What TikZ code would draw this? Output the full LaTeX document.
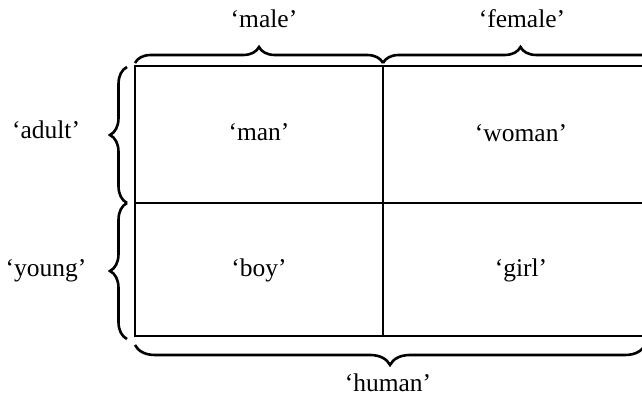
\documentclass[tikz,border=0pt]{standalone}
\usepackage{fontspec}
\setmainfont{Liberation Serif}
\usetikzlibrary{decorations.pathreplacing}
\begin{document}
\begin{tikzpicture}[x=1pt,y=1pt,
  lbl/.style={font=\fontsize{25.5}{28}\selectfont, anchor=base, inner sep=0pt},
  grid/.style={line width=1.8pt},
  curly/.style={decorate, decoration={brace, amplitude=#1}, line width=2.6pt},
]
\useasboundingbox (0,0) rectangle (642,398);
\clip (0,0) rectangle (642,398);
% box corners
\coordinate (tl) at (135,332);
\coordinate (br) at (646,62);
\coordinate (mt) at (383,332);
\coordinate (mb) at (383,62);
\coordinate (ml) at (135,195);
\coordinate (mr) at (646,195);
\draw[grid] (tl) rectangle (br);
\draw[grid] (mt) -- (mb);
\draw[grid] (ml) -- (mr);
% braces
\coordinate (tb1) at (135,335);
\coordinate (tb2) at (383,335);
\coordinate (tb3) at (658,335);
\draw[curly=16] (tb1) -- (tb2);
\draw[curly=16] (tb2) -- (tb3);
\coordinate (lb1) at (127,59);
\coordinate (lb2) at (127,195);
\coordinate (lb3) at (127,331);
\draw[curly=17] (lb2) -- (lb3);
\draw[curly=17] (lb1) -- (lb2);
\coordinate (bb1) at (135,53);
\coordinate (bb2) at (645,53);
\draw[curly=20] (bb2) -- (bb1);
% labels
\node[lbl] (male) at (264,370) {‘male’};
\node[lbl] (female) at (522,370) {‘female’};
\node[lbl] (adult) at (46,259) {‘adult’};
\node[lbl] (young) at (46,121) {‘young’};
\node[lbl] (man) at (259,257) {‘man’};
\node[lbl] (woman) at (521,256) {‘woman’};
\node[lbl] (boy) at (259,121) {‘boy’};
\node[lbl] (girl) at (521,121) {‘girl’};
\node[lbl] (human) at (388,6) {‘human’};
\end{tikzpicture}
\end{document}
